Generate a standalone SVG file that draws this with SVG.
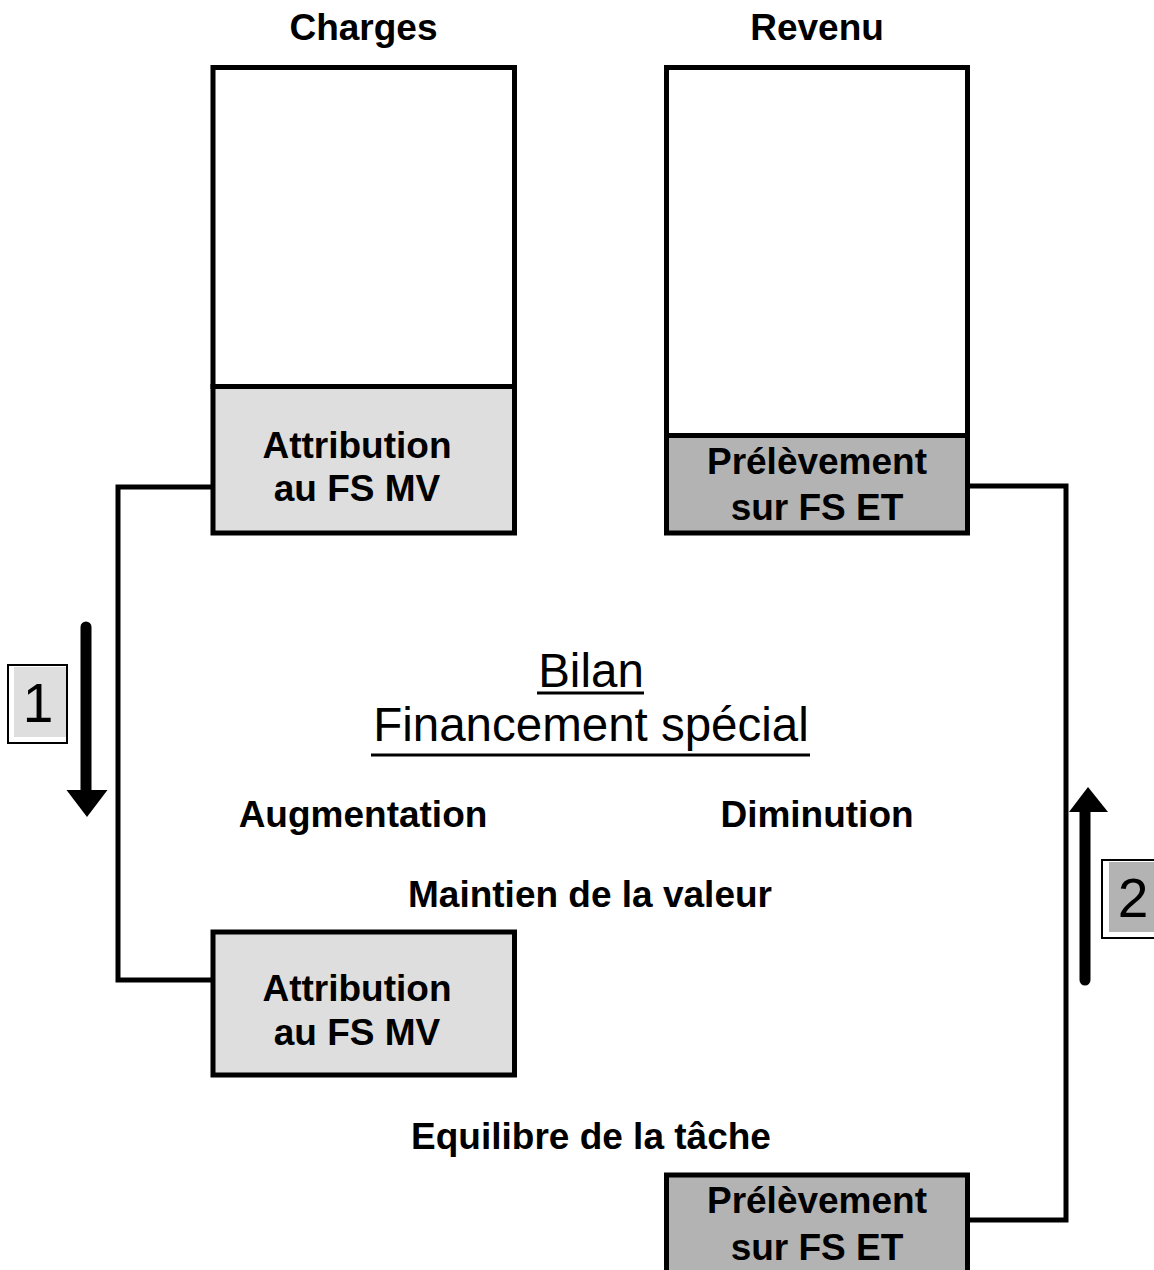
<svg xmlns="http://www.w3.org/2000/svg" width="1154" height="1270" viewBox="0 0 1154 1270">
<style>
  .box { stroke:#000; stroke-width:5; }
  .white { fill:#fff; }
  .light { fill:#dedede; }
  .dark { fill:#b3b3b3; }
  .b { font-family:"Liberation Sans", Arial, sans-serif; font-weight:bold; font-size:37px; fill:#000; text-anchor:middle; }
  .r { font-family:"Liberation Sans", Arial, sans-serif; font-size:47.5px; fill:#000; text-anchor:middle; }
  .num { font-family:"Liberation Sans", Arial, sans-serif; font-size:55px; fill:#000; text-anchor:middle; }
  .conn { fill:none; stroke:#000; stroke-width:5; }
  .shaft { stroke:#000; stroke-width:11; stroke-linecap:round; }
  .ul { stroke:#000; stroke-width:3; }
</style>
<rect width="1154" height="1270" fill="#fff"/>

<g id="connectors">
  <polyline class="conn" points="213,487 118,487 118,980 213,980"/>
  <polyline class="conn" points="967.5,486 1066,486 1066,1220 967.5,1220"/>
</g>

<g id="charges">
  <text class="b" x="363.5" y="40">Charges</text>
  <rect class="box white" x="213" y="67.5" width="301.5" height="319"/>
  <rect class="box light" x="213" y="386.5" width="301.5" height="146.5"/>
  <text class="b" x="357" y="458">Attribution</text>
  <text class="b" x="357" y="501">au FS MV</text>
</g>

<g id="revenu">
  <text class="b" x="817" y="40">Revenu</text>
  <rect class="box white" x="666.5" y="67.5" width="301" height="368"/>
  <rect class="box dark" x="666.5" y="435.5" width="301" height="97.5"/>
  <text class="b" x="817" y="474">Prélèvement</text>
  <text class="b" x="817" y="520">sur FS ET</text>
</g>

<g id="bilan">
  <text class="r" x="591" y="687">Bilan</text>
  <line class="ul" x1="537" y1="693" x2="644" y2="693"/>
  <text class="r" x="591" y="741">Financement spécial</text>
  <line class="ul" x1="371" y1="755" x2="810" y2="755"/>
  <text class="b" x="363" y="827">Augmentation</text>
  <text class="b" x="817" y="827">Diminution</text>
  <text class="b" x="590" y="907">Maintien de la valeur</text>
  <text class="b" x="591" y="1149">Equilibre de la tâche</text>
</g>

<g id="attribution-bilan">
  <rect class="box light" x="213" y="932" width="301.5" height="143"/>
  <text class="b" x="357" y="1001">Attribution</text>
  <text class="b" x="357" y="1045">au FS MV</text>
</g>

<g id="prelevement-bilan">
  <rect class="box dark" x="666.5" y="1175" width="301" height="120"/>
  <text class="b" x="817" y="1213">Prélèvement</text>
  <text class="b" x="817" y="1260">sur FS ET</text>
</g>

<g id="step1">
  <rect x="8" y="665" width="59" height="78" fill="#fff" stroke="#000" stroke-width="2"/>
  <rect x="14" y="667" width="52" height="70" fill="#dedede"/>
  <text class="num" x="38" y="722">1</text>
  <line class="shaft" x1="86" y1="627" x2="86" y2="792"/>
  <polygon points="66.5,790 107.5,790 87,817" fill="#000"/>
</g>

<g id="step2">
  <rect x="1102" y="860" width="60" height="78" fill="#fff" stroke="#000" stroke-width="2"/>
  <rect x="1109" y="862" width="50" height="70" fill="#b3b3b3"/>
  <text class="num" x="1133" y="917">2</text>
  <line class="shaft" x1="1085" y1="980" x2="1085" y2="810"/>
  <polygon points="1069,812 1108,812 1088,787" fill="#000"/>
</g>
</svg>
